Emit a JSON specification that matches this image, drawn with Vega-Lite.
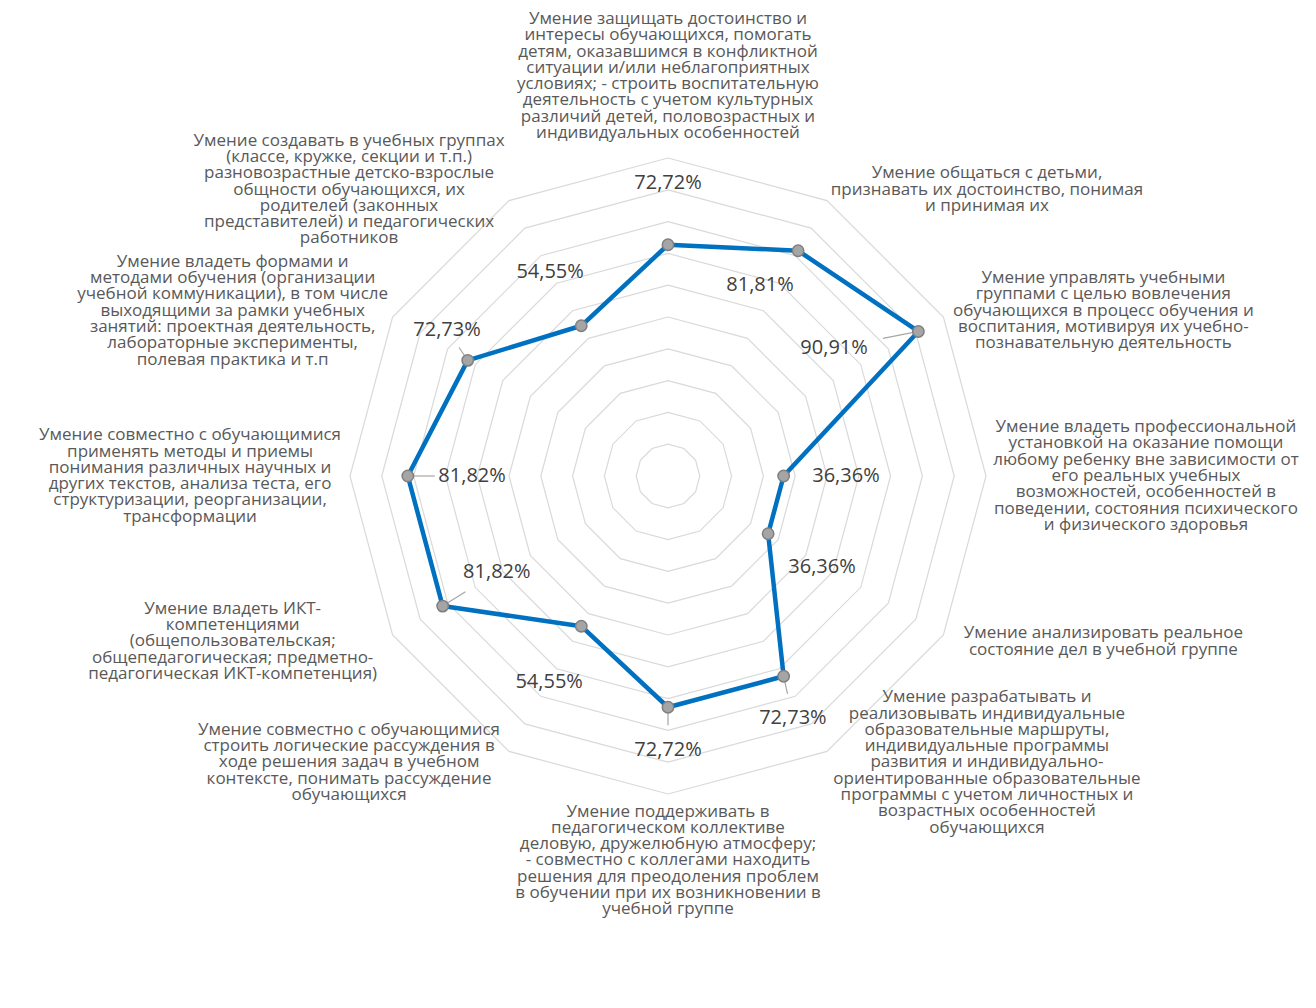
{
  "$schema": "https://vega.github.io/schema/vega-lite/v6.json",
  "width": 1316,
  "height": 1008,
  "autosize": {"type": "none"},
  "padding": 0,
  "background": "white",
  "config": {"view": {"stroke": null}},
  "datasets": {
    "main": [
      {"i": 0, "v": 0.7272, "cat": "Умение защищать достоинство и\nинтересы обучающихся, помогать\nдетям, оказавшимся в конфликтной\nситуации и/или неблагоприятных\nусловиях; - строить воспитательную\nдеятельность с учетом культурных\nразличий детей, половозрастных и\nиндивидуальных особенностей"},
      {"i": 1, "v": 0.8181, "cat": "Умение общаться с детьми,\nпризнавать их достоинство, понимая\nи принимая их"},
      {"i": 2, "v": 0.9091, "cat": "Умение управлять учебными\nгруппами с целью вовлечения\nобучающихся в процесс обучения и\nвоспитания, мотивируя их учебно-\nпознавательную деятельность"},
      {"i": 3, "v": 0.3636, "cat": "Умение владеть профессиональной\nустановкой на оказание помощи\nлюбому ребенку вне зависимости от\nего реальных учебных\nвозможностей, особенностей в\nповедении, состояния психического\nи физического здоровья"},
      {"i": 4, "v": 0.3636, "cat": "Умение анализировать реальное\nсостояние дел в учебной группе"},
      {"i": 5, "v": 0.7273, "cat": "Умение разрабатывать и\nреализовывать индивидуальные\nобразовательные маршруты,\nиндивидуальные программы\nразвития и индивидуально-\nориентированные образовательные\nпрограммы с учетом личностных и\nвозрастных особенностей\nобучающихся"},
      {"i": 6, "v": 0.7272, "cat": "Умение поддерживать в\nпедагогическом коллективе\nделовую, дружелюбную атмосферу;\n- совместно с коллегами находить\nрешения для преодоления проблем\nв обучении при их возникновении в\nучебной группе"},
      {"i": 7, "v": 0.5455, "cat": "Умение совместно с обучающимися\nстроить логические рассуждения в\nходе решения задач в учебном\nконтексте, понимать рассуждение\nобучающихся"},
      {"i": 8, "v": 0.8182, "cat": "Умение владеть ИКТ-\nкомпетенциями\n(общепользовательская;\nобщепедагогическая; предметно-\nпедагогическая ИКТ-компетенция)"},
      {"i": 9, "v": 0.8182, "cat": "Умение совместно с обучающимися\nприменять методы и приемы\nпонимания различных научных и\nдругих текстов, анализа теста, его\nструктуризации, реорганизации,\nтрансформации"},
      {"i": 10, "v": 0.7273, "cat": "Умение владеть формами и\nметодами обучения (организации\nучебной коммуникации), в том числе\nвыходящими за рамки учебных\nзанятий: проектная деятельность,\nлабораторные эксперименты,\nполевая практика и т.п"},
      {"i": 11, "v": 0.5455, "cat": "Умение создавать в учебных группах\n(классе, кружке, секции и т.п.)\nразновозрастные детско-взрослые\nобщности обучающихся, их\nродителей (законных\nпредставителей) и педагогических\nработников"}
    ],
    "rings": [
      {"ring": 10, "k": [0,1,2,3,4,5,6,7,8,9,10,11]},
      {"ring": 20, "k": [0,1,2,3,4,5,6,7,8,9,10,11]},
      {"ring": 30, "k": [0,1,2,3,4,5,6,7,8,9,10,11]},
      {"ring": 40, "k": [0,1,2,3,4,5,6,7,8,9,10,11]},
      {"ring": 50, "k": [0,1,2,3,4,5,6,7,8,9,10,11]},
      {"ring": 60, "k": [0,1,2,3,4,5,6,7,8,9,10,11]},
      {"ring": 70, "k": [0,1,2,3,4,5,6,7,8,9,10,11]},
      {"ring": 80, "k": [0,1,2,3,4,5,6,7,8,9,10,11]},
      {"ring": 90, "k": [0,1,2,3,4,5,6,7,8,9,10,11]},
      {"ring": 100, "k": [0,1,2,3,4,5,6,7,8,9,10,11]}
    ]
  },
  "layer": [
    {
      "data": {"name": "rings"},
      "transform": [
        {"flatten": ["k"]},
        {"calculate": "datum.k*PI/6", "as": "a"},
        {"calculate": "datum.ring*sin(datum.a)", "as": "gx"},
        {"calculate": "datum.ring*cos(datum.a)", "as": "gy"}
      ],
      "mark": {"type": "line", "interpolate": "linear-closed", "stroke": "#d9d9d9", "strokeWidth": 1.2},
      "encoding": {
        "x": {"field": "gx", "type": "quantitative", "scale": {"domain": [-210.063, 203.774], "nice": false, "zero": false}, "axis": null},
        "y": {"field": "gy", "type": "quantitative", "scale": {"domain": [-167.296, 149.686], "nice": false, "zero": false}, "axis": null},
        "detail": {"field": "ring", "type": "nominal"},
        "order": {"field": "k", "type": "quantitative"}
      }
    },
    {
      "data": {"name": "main"},
      "transform": [
        {"calculate": "datum.i*PI/6", "as": "a"},
        {"calculate": "datum.v*100*sin(datum.a)", "as": "px"},
        {"calculate": "datum.v*100*cos(datum.a)", "as": "py"},
        {"calculate": "datum.v*100 + [19.4,-15.1,-25,19.6,19.9,12.9,13.5,20.2,-20.1,-20.2,10.6,19.6][datum.i]", "as": "lr"},
        {"calculate": "datum.a + [0,-4.3,-7.6,0,0.6,2.7,0,0,0.7,0,3.5,0][datum.i]*PI/180", "as": "la"},
        {"calculate": "datum.lr*sin(datum.la)", "as": "lx"},
        {"calculate": "datum.lr*cos(datum.la)", "as": "ly"},
        {"calculate": "datum.px + 0.42*(datum.lx-datum.px)", "as": "ex"},
        {"calculate": "datum.py + 0.42*(datum.ly-datum.py)", "as": "ey"},
        {"calculate": "replace(format(datum.v, '.2%'), '.', ',')", "as": "lbl"},
        {"calculate": "length(split(datum.cat, '\\n'))", "as": "n"},
        {"calculate": "100*sin(datum.a) + (sin(datum.a) > 0.1 ? 50.3 : (sin(datum.a) < -0.1 ? -50.3 : 0))", "as": "cx"},
        {"calculate": "datum.i == 0 ? 105 + (datum.n-1)*5.126 : (datum.i == 6 ? -103 : 104*cos(datum.a) + (datum.n-1)*2.563)", "as": "cy"}
      ],
      "layer": [
        {
          "mark": {"type": "line", "interpolate": "linear-closed", "stroke": "#0070C0", "strokeWidth": 4.5, "strokeJoin": "round"},
          "encoding": {
            "x": {"field": "px", "type": "quantitative", "scale": {"domain": [-210.063, 203.774], "nice": false, "zero": false}, "axis": null},
            "y": {"field": "py", "type": "quantitative", "scale": {"domain": [-167.296, 149.686], "nice": false, "zero": false}, "axis": null},
            "order": {"field": "i", "type": "quantitative"}
          }
        },
        {
          "transform": [{"filter": "indexof([2,5,6,8,9,10], datum.i) >= 0"}],
          "mark": {"type": "rule", "stroke": "#a6a6a6", "strokeWidth": 1.2},
          "encoding": {
            "x": {"field": "px", "type": "quantitative", "scale": {"domain": [-210.063, 203.774], "nice": false, "zero": false}, "axis": null},
            "y": {"field": "py", "type": "quantitative", "scale": {"domain": [-167.296, 149.686], "nice": false, "zero": false}, "axis": null},
            "x2": {"field": "ex"},
            "y2": {"field": "ey"}
          }
        },
        {
          "mark": {"type": "point", "shape": "circle", "filled": true, "fill": "#a5a5a5", "stroke": "#7f7f7f", "strokeWidth": 1.5, "size": 130, "opacity": 1},
          "encoding": {
            "x": {"field": "px", "type": "quantitative", "scale": {"domain": [-210.063, 203.774], "nice": false, "zero": false}, "axis": null},
            "y": {"field": "py", "type": "quantitative", "scale": {"domain": [-167.296, 149.686], "nice": false, "zero": false}, "axis": null}
          }
        },
        {
          "mark": {"type": "text", "font": "Open Sans", "fontSize": 20, "fill": "#404040", "align": "center", "baseline": "middle"},
          "encoding": {
            "x": {"field": "lx", "type": "quantitative", "scale": {"domain": [-210.063, 203.774], "nice": false, "zero": false}, "axis": null},
            "y": {"field": "ly", "type": "quantitative", "scale": {"domain": [-167.296, 149.686], "nice": false, "zero": false}, "axis": null},
            "text": {"field": "lbl"}
          }
        },
        {
          "transform": [{"filter": "datum.i != 0 && datum.i != 6"}],
          "mark": {"type": "text", "font": "Open Sans", "fontSize": 17, "lineHeight": 16.3, "lineBreak": "\n", "fill": "#595959", "align": "center", "baseline": "middle"},
          "encoding": {
            "x": {"field": "cx", "type": "quantitative", "scale": {"domain": [-210.063, 203.774], "nice": false, "zero": false}, "axis": null},
            "y": {"field": "cy", "type": "quantitative", "scale": {"domain": [-167.296, 149.686], "nice": false, "zero": false}, "axis": null},
            "text": {"field": "cat"}
          }
        },
        {
          "transform": [{"filter": "datum.i == 0"}],
          "mark": {"type": "text", "font": "Open Sans", "fontSize": 17, "lineHeight": 16.3, "lineBreak": "\n", "fill": "#595959", "align": "center", "baseline": "bottom"},
          "encoding": {
            "x": {"field": "cx", "type": "quantitative", "scale": {"domain": [-210.063, 203.774], "nice": false, "zero": false}, "axis": null},
            "y": {"field": "cy", "type": "quantitative", "scale": {"domain": [-167.296, 149.686], "nice": false, "zero": false}, "axis": null},
            "text": {"field": "cat"}
          }
        },
        {
          "transform": [{"filter": "datum.i == 6"}],
          "mark": {"type": "text", "font": "Open Sans", "fontSize": 17, "lineHeight": 16.3, "lineBreak": "\n", "fill": "#595959", "align": "center", "baseline": "top"},
          "encoding": {
            "x": {"field": "cx", "type": "quantitative", "scale": {"domain": [-210.063, 203.774], "nice": false, "zero": false}, "axis": null},
            "y": {"field": "cy", "type": "quantitative", "scale": {"domain": [-167.296, 149.686], "nice": false, "zero": false}, "axis": null},
            "text": {"field": "cat"}
          }
        }
      ]
    }
  ]
}
